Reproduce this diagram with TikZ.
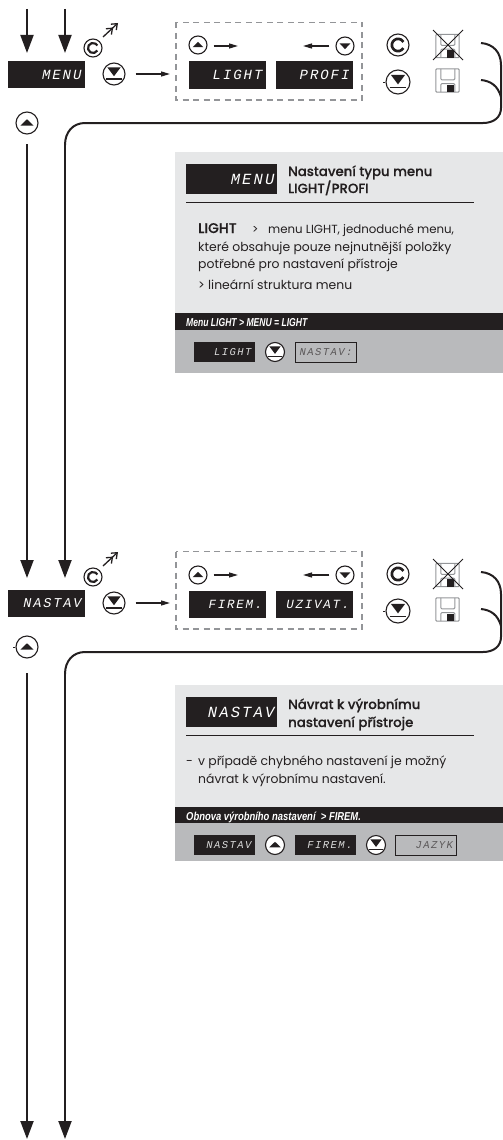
\documentclass[tikz,border=0pt]{standalone}
\usepackage{fontspec}
\usepackage{graphicx}
\usetikzlibrary{arrows.meta}
\setmainfont{Poppins}
\newfontfamily\titlefont[FakeBold=0.3]{Poppins Medium}
\newfontfamily\lcd[LetterSpace=14,ItalicFont={Liberation Mono Italic}]{Liberation Mono}
\newfontfamily\barfont[FakeStretch=0.82,BoldItalicFont={Liberation Sans Bold Italic}]{Liberation Sans}
\definecolor{ink}{HTML}{231F20}
\definecolor{panellight}{HTML}{E6E7E8}
\definecolor{panelmid}{HTML}{B9BABC}
\definecolor{dashgray}{HTML}{939598}
\tikzset{
  flow/.style={line width=2pt,draw=ink},
  flowtip/.style={flow,-{Triangle[width=13pt,length=18pt]},shorten >=0pt},
  small/.style={line width=1.3pt,draw=ink,-{Triangle[width=5pt,length=9pt]}},
  dispbig/.style={fill=ink,draw=none,minimum width=77pt,minimum height=27pt,inner sep=0pt,text width=70pt,align=right,text=white,font=\lcd\itshape\fontsize{14}{14}\selectfont},
  disphead/.style={fill=ink,draw=none,minimum width=91pt,minimum height=30pt,inner sep=0pt,text width=86pt,align=right,text=white,font=\lcd\itshape\fontsize{15.5}{15.5}\selectfont},
  dispsmall/.style={fill=ink,draw=none,minimum width=61pt,minimum height=20pt,inner sep=0pt,text width=54pt,align=right,text=white!85!black,font=\lcd\itshape\fontsize{10.5}{10.5}\selectfont},
  dispoff/.style={dispsmall,fill=panelmid,draw=ink,line width=.7pt,text=ink!75},
  btn/.style={circle,draw=ink,fill=white,line width=1.1pt,inner sep=0pt,minimum size=#1},
  title/.style={anchor=base west,inner sep=0pt,text=ink,font=\titlefont\fontsize{13.3}{14}\selectfont},
  body/.style={anchor=base west,inner sep=0pt,text=ink,font=\fontsize{12.4}{14}\selectfont},
  bartext/.style={anchor=base west,inner sep=0pt,text=white,font=\barfont\bfseries\itshape\fontsize{11.5}{13}\selectfont},
  floppyline/.style={draw=dashgray,line width=1pt,rounded corners=1pt},
}
% up button: name, x, y, diameter
\newcommand{\upbtn}[4]{\node[btn=#4] (#1) at (#2,#3) {};
  \fill[ink] ([shift={(-.30*#4,.12*#4)}]#1.center) -- ([shift={(.30*#4,.12*#4)}]#1.center) -- ([shift={(0,-.17*#4)}]#1.center) -- cycle;}
\newcommand{\downbtn}[4]{\node[btn=#4] (#1) at (#2,#3) {};
  \fill[ink] ([shift={(-.30*#4,-.14*#4)}]#1.center) -- ([shift={(.30*#4,-.14*#4)}]#1.center) -- ([shift={(0,.17*#4)}]#1.center) -- cycle;}
\newcommand{\enterbtn}[4]{\node[btn=#4] (#1) at (#2,#3) {};
  \fill[ink] ([shift={(-.30*#4,-.30*#4)}]#1.center) -- ([shift={(.30*#4,-.30*#4)}]#1.center) -- ([shift={(0,.10*#4)}]#1.center) -- cycle;
  \draw[ink,line width=1.6pt] ([shift={(-.35*#4,.23*#4)}]#1.center) -- ([shift={(.35*#4,.23*#4)}]#1.center);}
\newcommand{\cbtn}[4]{\node[btn=#4] (#1) at (#2,#3) {};
  \draw[ink,line width=.12*#4] ([shift={(30:.28*#4)}]#1.center) arc[start angle=30,end angle=330,radius=.28*#4];}
\newcommand{\floppy}[3]{\node[draw=none,minimum size=23pt,inner sep=0pt] (#1) at (#2,#3) {};
  \draw[floppyline] (#1.north west) rectangle (#1.south east);
  \draw[floppyline] ([xshift=5pt]#1.north west) -- ++(0,11) -- ++(14,0) -- ++(0,-11);
  \draw[floppyline] ([xshift=5pt]#1.south west) -- ++(0,-8.5) -- ++(14,0) -- ++(0,8.5);
  \fill[ink] ([xshift=11pt]#1.south west) rectangle ++(7,-7.5);}
\begin{document}
\begin{tikzpicture}[x=1pt,y=-1pt]
\useasboundingbox (0,0) rectangle (503,1140);
%% ---------- panels ----------
\fill[panellight] (175,152) rectangle (503,313);
\fill[ink] (175,313) rectangle (503,329.5);
\fill[panelmid] (175,329.5) rectangle (503,373);
\fill[panellight] (175,685) rectangle (503,807);
\fill[ink] (175,807) rectangle (503,823);
\fill[panelmid] (175,823) rectangle (503,861);
%% ---------- section 1 ----------
\coordinate (a1) at (27,9);
\coordinate (b1) at (65,9);
\node[dispbig] (menu) at (46.5,74.5) {MENU};
\draw[flowtip] (a1) -- (27,53);
\draw[flowtip] (b1) -- (65,53);
\cbtn{c1}{93}{48}{18}
\draw[line width=1.3pt,draw=ink,-{Straight Barb[length=5pt,width=8pt]Straight Barb[length=5pt,width=8pt]}] (c1) ++(10,-11) -- ++(15,-14);
\enterbtn{e1}{114}{74}{22}
\draw[dash pattern=on 6pt off 4.5pt,draw=dashgray,line width=1.4pt] (176,22.5) rectangle (362,100);
\node[dispbig] (light) at (227.5,75) {LIGHT};
\node[dispbig] (profi) at (314.5,75) {PROFI};
\coordinate (sel1) at (170,74);
\draw[small] (e1.east) ++(10,0) -- (sel1);
\upbtn{u1}{198}{45}{18}
\downbtn{d1}{345}{46}{18}
\coordinate (u1t) at (238,46);
\coordinate (d1t) at (303,46);
\draw[small] (u1.east) ++(6,1) -- (u1t);
\draw[small] (d1.west) ++(-6,0) -- (d1t);
\cbtn{c1b}{398}{45}{22}
\enterbtn{e1b}{398}{82}{24}
\draw[ink,line width=.6pt] (e1b.west) -- ++(-2,0);
\floppy{f1a}{447.5}{46}
\draw[ink,line width=.9pt] (433,30) -- (463,60) (463,30) -- (433,60);
\floppy{f1b}{447.5}{80.5}
\coordinate (ca1) at (481,43);
\coordinate (cb1) at (481,80);
\coordinate (m1) at (501,108);
\coordinate (n1) at (65,145);
\draw[flow] (ca1) .. controls (493,44) and (501,52) .. (501,65) -- (m1) .. controls (501,117) and (494,123) .. (483,123) -- (85,123) .. controls (73,123) and (65,132) .. (n1);
\draw[flow] (cb1) .. controls (491,81) and (498,86) .. (501,97);
\upbtn{u1a}{27}{123}{22}
%% panel 1 text
\node[disphead] (hd1) at (231.5,179) {MENU};
\node[title] (t1a) at (288,176) {Nastavení typu menu};
\node[title] (t1b) at (288,193) {LIGHT/PROFI};
\coordinate (r1a) at (186,202); \coordinate (r1b) at (474,202);
\draw[ink,line width=.9pt] (r1a) -- (r1b);
\node[body] (b1a) at (198,233) {\fontsize{11.8}{14}\selectfont\makebox[54pt][l]{\titlefont\fontsize{14}{14}\selectfont LIGHT}\makebox[16pt][l]{>}menu LIGHT, jednoduché menu,};
\node[body] (b1b) at (198,251) {které obsahuje pouze nejnutnější položky};
\node[body] (b1c) at (198,268) {potřebné pro nastavení přístroje};
\node[body] (b1d) at (198,289) {> lineární struktura menu};
\node[bartext] (bar1) at (186,326.5) {\scalebox{.91}[1]{Menu LIGHT > MENU = LIGHT}};
\node[dispsmall] (sl1) at (224.5,352) {LIGHT};
\enterbtn{se1}{275}{352}{19}
\node[dispoff] (sn1) at (325.5,352) {NASTAV:};
%% ---------- section 2 ----------
\node[dispbig] (nastav) at (46.5,603.5) {\fontsize{13.5}{14}\selectfont NASTAV};
\draw[flowtip] (27,144) -- (27,578);
\draw[flowtip] (n1) -- (65,578);
\cbtn{c2}{93}{577}{18}
\draw[line width=1.3pt,draw=ink,-{Straight Barb[length=5pt,width=8pt]Straight Barb[length=5pt,width=8pt]}] (c2) ++(10,-11) -- ++(15,-14);
\enterbtn{e2}{114}{603}{22}
\draw[dash pattern=on 6pt off 4.5pt,draw=dashgray,line width=1.4pt] (176,551.5) rectangle (362,629);
\node[dispbig] (firem) at (227.5,604) {\fontsize{12.5}{14}\selectfont FIREM.};
\node[dispbig] (uzivat) at (314.5,604) {\fontsize{12.5}{14}\selectfont UZIVAT.};
\coordinate (sel2) at (170,603);
\draw[small] (e2.east) ++(10,0) -- (sel2);
\upbtn{u2}{198}{575}{18}
\downbtn{d2}{345}{575}{18}
\coordinate (u2t) at (238,575);
\coordinate (d2t) at (303,575);
\draw[small] (u2.east) ++(6,0) -- (u2t);
\draw[small] (d2.west) ++(-6,0) -- (d2t);
\cbtn{c2b}{398}{574}{22}
\enterbtn{e2b}{398}{611}{24}
\draw[ink,line width=.6pt] (e2b.west) -- ++(-2,0);
\floppy{f2a}{447.5}{575}
\draw[ink,line width=.9pt] (433,559) -- (463,589) (463,559) -- (433,589);
\floppy{f2b}{447.5}{609.5}
\coordinate (ca2) at (481,572);
\coordinate (cb2) at (481,609);
\coordinate (m2) at (501,637);
\coordinate (n2) at (65,674);
\draw[flow] (ca2) .. controls (493,573) and (501,581) .. (501,594) -- (m2) .. controls (501,646) and (494,652) .. (483,652) -- (85,652) .. controls (73,652) and (65,661) .. (n2);
\draw[flow] (cb2) .. controls (491,610) and (498,615) .. (501,626);
\upbtn{u2a}{27}{647}{22}
\draw[ink,line width=.6pt] (u2a.west) -- ++(-2,0);
%% panel 2 text
\node[disphead] (hd2) at (231.5,712) {NASTAV};
\node[title] (t2a) at (288,709) {Návrat k výrobnímu};
\node[title] (t2b) at (288,727) {nastavení přístroje};
\coordinate (r2a) at (186,735); \coordinate (r2b) at (474,735);
\draw[ink,line width=.9pt] (r2a) -- (r2b);
\node[body] (b2x) at (186,765) {-};
\node[body] (b2a) at (198,765) {v případě chybného nastavení je možný};
\node[body] (b2b) at (198,783) {návrat k výrobnímu nastavení.};
\node[bartext] (bar2) at (186,820) {Obnova výrobního nastavení\ \ > FIREM.};
\node[dispsmall] (sl2) at (224.5,845) {NASTAV};
\upbtn{su2}{275}{845}{19}
\node[dispsmall] (sf2) at (325.5,845) {FIREM.};
\enterbtn{se2}{376}{845}{19}
\node[dispoff] (sj2) at (426,845) {JAZYK};
%% ---------- exits ----------
\draw[flowtip] (27,673) -- (27,1139);
\draw[flowtip] (n2) -- (65,1139);
\end{tikzpicture}
\end{document}
